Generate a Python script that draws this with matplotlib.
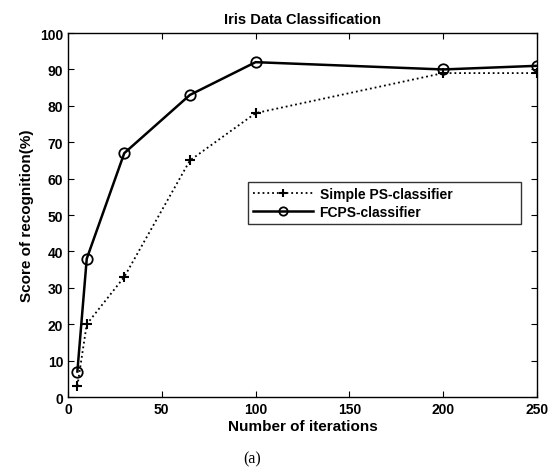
import numpy as np
import matplotlib.pyplot as plt

plt.rcParams['font.family'] = ['Liberation Sans', 'DejaVu Sans']

iters = [5, 10, 30, 65, 100, 200, 250]
simple_ps = [3, 20, 33, 65, 78, 89, 89]
fcps = [7, 38, 67, 83, 92, 90, 91]

fig = plt.figure(figsize=(5.55, 4.77), dpi=100)
ax = fig.add_axes([0.1225, 0.1656, 0.845, 0.763])

ax.plot(iters, simple_ps, ':', color='black', lw=1.3, marker='+', ms=7.5, mew=1.5,
        label='Simple PS-classifier')
ax.plot(iters, fcps, '-', color='black', lw=1.8, marker='o', ms=7.5, mfc='none', mew=1.3,
        label='FCPS-classifier')

ax.set_xlim(0, 250)
ax.set_ylim(0, 100)
ax.set_xticks(np.arange(0, 251, 50))
ax.set_yticks(np.arange(0, 101, 10))
ax.tick_params(direction='in', top=True, right=True, length=4, labelsize=10)
for lbl in ax.get_xticklabels() + ax.get_yticklabels():
    lbl.set_fontweight('bold')
for s in ax.spines.values():
    s.set_linewidth(1.0)

ax.set_title('Iris Data Classification', fontsize=10.5, fontweight='bold', pad=7)
ax.set_xlabel('Number of iterations', fontsize=11, fontweight='bold', labelpad=2)
ax.set_ylabel('Score of recognition(%)', fontsize=11, fontweight='bold', labelpad=4)

leg = ax.legend(loc='upper left', bbox_to_anchor=(0.384, 0.467, 0.582, 0.123), mode='expand',
                prop={'weight': 'bold', 'size': 10}, handlelength=4.3, handletextpad=0.5,
                frameon=True, fancybox=False, edgecolor='black', borderaxespad=0,
                labelspacing=0.3, borderpad=0.35, markerscale=0.8)
leg.get_frame().set_linewidth(1.0)

fig.text(0.455, 0.028, '(a)', fontsize=11.5, family='Liberation Serif', ha='center')

plt.savefig('out.png', dpi=100)
